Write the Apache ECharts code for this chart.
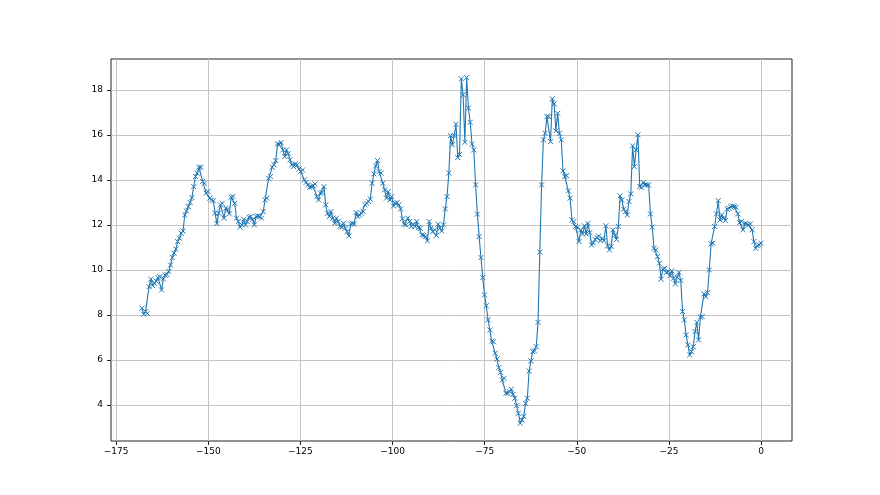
<!DOCTYPE html>
<html>
<head>
<meta charset="utf-8">
<script src="https://cdn.jsdelivr.net/npm/echarts@6/dist/echarts.min.js"></script>
<style>html,body{margin:0;padding:0;background:#fff}#c{width:880px;height:495px}</style>
</head>
<body>
<div id="c"></div>
<script>
const xStart = -168, xEnd = 0;
const xTicks = [-175, -150, -125, -100, -75, -50, -25, 0];
const yTicks = [4, 6, 8, 10, 12, 14, 16, 18];
const seg1 = [8.30,8.03,8.15,8.07,9.26,9.59,9.30,9.4,9.5,9.66,9.7,9.11,9.6,9.77,9.8,9.93,10.22,10.55,10.74,10.93,11.26,11.41,11.63,11.73,12.44,12.62,12.81,13.0,13.21,13.70,14.15,14.3,14.56,14.56,13.93,13.85,13.41,13.48,13.19,13.11,13.07,12.52,12.06,12.52,12.89,12.96,12.30];
const seg2 = [12.74,12.7,12.49,13.23,13.26,12.96,12.30,12.15,11.90,12.0,12.25,12.0,12.15,12.34,12.37,12.25,12.0,12.37,12.4,12.37,12.3,12.59,13.11,13.19,14.07,14.15,14.56,14.67,14.86,15.6,15.56,15.66,15.33,15.04,15.33,15.16,14.89,14.67,14.59,14.71,14.67,14.48,14.37,14.44,14.0,13.89,13.78,13.67,13.7];
const seg3 = [13.74,13.82,13.26,13.11,13.41,13.44,13.70,12.89,12.52,12.37,12.59,12.30,12.07,12.3,12.15,11.93,11.9,12.07,11.85,11.70,11.51,12.04,12.07,12.04,12.55,12.37,12.44,12.52,12.59,12.89,12.96,13.04,13.14,13.85,14.27,14.62,14.86,14.37,14.3,13.85,13.56,13.19,13.48,13.11,13.26,12.84,12.96,12.99];
const seg4 = [12.89,12.71,12.27,12.03,12.0,12.30,12.15,11.93,12.03,11.93,12.15,11.88,11.85,11.56,11.53,11.48,11.29,12.15,11.85,11.7,11.78,11.53,12.03,11.85,11.73,12.0,12.71,13.26,14.30,15.97,15.56,15.97,16.47,14.99,15.13,18.49,17.78,15.67,18.55,17.19,16.56,15.59,15.33,13.78,12.48,11.48,10.55,9.66];
const seg5 = [8.89,8.41,7.78,7.33,6.84,6.81,6.30,6.04,5.66,5.45,5.11,5.19,4.52,4.52,4.59,4.7,4.47,4.30,3.97,3.63,3.19,3.33,3.5,4.07,4.30,5.51,5.96,6.37,6.4,6.59,7.67,10.79,13.78,15.78,16.07,16.81,16.81,15.70,17.6,17.37,16.18,16.96,16.07,15.78,14.4,14.15,14.19,13.51,13.19,12.22];
const seg6 = [12.15,11.93,11.9,11.26,11.78,11.6,11.96,11.6,12.07,11.66,11.11,11.2,11.35,11.44,11.5,11.3,11.4,11.3,11.96,11.07,10.89,11.04,11.78,11.55,11.35,11.93,13.29,13.11,12.70,12.59,12.44,13.04,13.38,15.51,14.59,15.33,16.0,13.70,13.67,13.88,13.78,13.78,13.77,12.49,11.90,10.96,10.89,10.59];
const seg7 = [10.30,9.59,10.03,10.07,9.89,9.93,9.74,9.96,9.63,9.38,9.67,9.89,9.53,8.15,7.78,7.11,6.67,6.22,6.37,6.59,7.26,7.67,6.89,7.9,7.93,8.93,8.81,8.99,10.0,11.16,11.19,11.93,12.49,13.08,12.22,12.44,12.3,12.19,12.70,12.74,12.81,12.84,12.81,12.78,12.49,12.10,12.15,11.78,12.07,12.04,12.0,12.04,11.78,11.26,10.96,11.07,11.11,11.19];

const ys = [].concat(seg1, seg2, seg3, seg4, seg5, seg6, seg7);
const n = ys.length;
const data = ys.map((y, i) => [xStart + i * (xEnd - xStart) / (n - 1), y]);

const fmt = v => (v < 0 ? '\u2212' + (-v) : String(v));
const font = 'DejaVu Sans';

const chart = echarts.init(document.getElementById('c'), null, {renderer: 'canvas'});
chart.setOption({
  animation: false,
  backgroundColor: '#fff',
  grid: {left: 111, right: 88, top: 59, bottom: 54, show: true, borderColor: '#222', borderWidth: 1, containLabel: false},
  xAxis: {
    type: 'value', min: -176.4, max: 8.4,
    axisLine: {show: false, onZero: false},
    axisTick: {show: true, length: 4, lineStyle: {color: '#222'}, customValues: xTicks},
    axisLabel: {customValues: xTicks, formatter: fmt, color: '#000', fontFamily: font, fontSize: 9, margin: 6},
    splitLine: {show: true, lineStyle: {color: '#c4c4c4', width: 1}}
  },
  yAxis: {
    type: 'value', min: 2.4, max: 19.37,
    axisLine: {show: false, onZero: false},
    axisTick: {show: true, length: 4, lineStyle: {color: '#222'}, customValues: yTicks},
    axisLabel: {customValues: yTicks, formatter: fmt, color: '#000', fontFamily: font, fontSize: 9, margin: 8},
    splitLine: {show: true, lineStyle: {color: '#c4c4c4', width: 1}}
  },
  series: [{
    type: 'line',
    data: data,
    showAllSymbol: true,
    symbol: 'path://M0,0L10,10M10,0L0,10',
    symbolSize: 5,
    itemStyle: {color: 'rgba(0,0,0,0)', borderColor: '#1f77b4', borderWidth: 1},
    lineStyle: {color: '#1f77b4', width: 1.1},
    emphasis: {disabled: true}
  }]
});
</script>
</body>
</html>
